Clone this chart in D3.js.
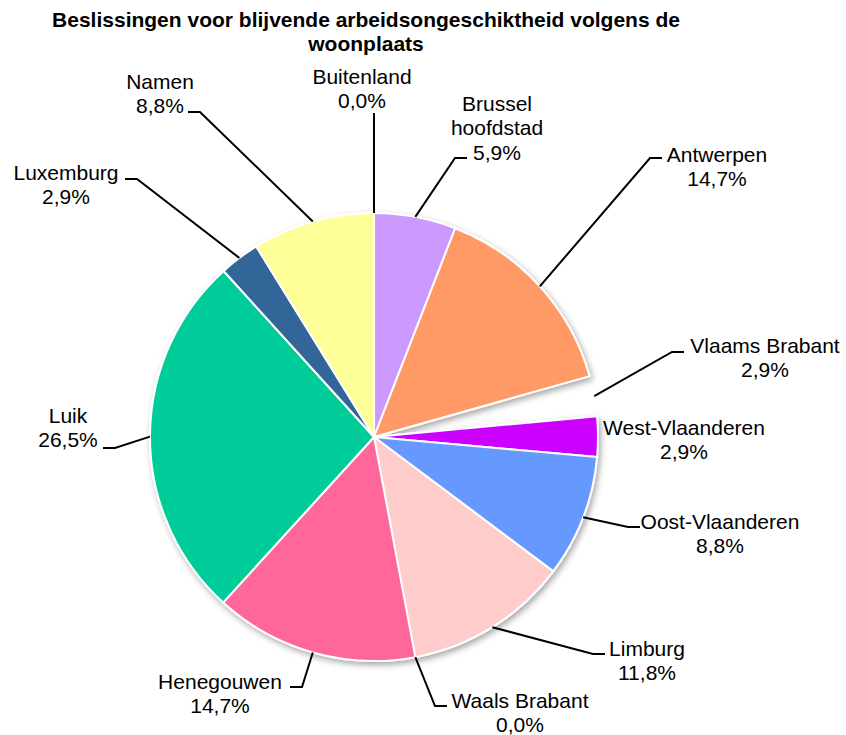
<!DOCTYPE html>
<html lang="nl">
<head>
    <meta charset="UTF-8">
    <title>Beslissingen voor blijvende arbeidsongeschiktheid volgens de woonplaats</title>
    <script src="https://d3js.org/d3.v7.min.js"></script>
    <style>
        body {
            margin: 0;
            padding: 0;
            background: #ffffff;
        }
        svg {
            display: block;
            font-family: 'Liberation Sans', Arial, sans-serif;
        }
        .lbl {
            font-size: 21px;
            fill: #000;
        }
        .title {
            font-size: 21px;
            font-weight: bold;
            fill: #000;
        }
    </style>
</head>
<body>
    <svg width="846" height="735"></svg>

    <script>
        // data, clockwise from 12 o'clock
        const provinces = ["Buitenland", "Brussel hoofdstad", "Antwerpen", "Vlaams Brabant",
                           "West-Vlaanderen", "Oost-Vlaanderen", "Limburg", "Waals Brabant",
                           "Henegouwen", "Luik", "Luxemburg", "Namen"];
        const shares = [0.0, 5.9, 14.7, 2.9, 2.9, 8.8, 11.8, 0.0, 14.7, 26.5, 2.9, 8.8];
        const colors = ["#ffffff", "#cc99ff", "#ff9966", "none", "#cc00ff", "#6699ff",
                        "#ffcccc", "#ffffff", "#ff6699", "#00cc99", "#336699", "#ffff99"];

        // label layout: text lines, text centre, elbow of the leader line
        const labelLines = [["Buitenland"], ["Brussel", "hoofdstad"], ["Antwerpen"], ["Vlaams Brabant"],
                            ["West-Vlaanderen"], ["Oost-Vlaanderen"], ["Limburg"], ["Waals Brabant"],
                            ["Henegouwen"], ["Luik"], ["Luxemburg"], ["Namen"]];
        const labelAt = [[362, 76], [497, 103], [717, 154], [765, 345], [684, 427], [720, 521],
                         [647, 648], [520, 700], [220, 681], [68, 415], [66, 172], [160, 81]];
        const elbows = [[374, 113, 0], [455, 158, 1], [650, 158, 1], [672, 352, 1], null, [628, 527, 1],
                        [593, 654, 1], [435, 706, 1], [302, 687, -1], [115, 448, -1], [137, 179, -1], [200, 112, -1]];

        const svg = d3.select("svg");
        const cx = 374, cy = 437, radius = 224;
        const fmt = v => d3.format(".1f")(v).replace(".", ",") + "%";

        const defs = svg.append("defs");
        const shadow = defs.append("filter").attr("id", "shadow")
            .attr("x", "-20%").attr("y", "-20%").attr("width", "140%").attr("height", "140%");
        shadow.append("feDropShadow")
            .attr("dx", 2).attr("dy", 3).attr("stdDeviation", 3)
            .attr("flood-color", "#000").attr("flood-opacity", 0.35);

        // title
        svg.append("text").attr("class", "title")
           .attr("x", 366).attr("y", 27).attr("text-anchor", "middle")
           .text("Beslissingen voor blijvende arbeidsongeschiktheid volgens de");
        svg.append("text").attr("class", "title")
           .attr("x", 366).attr("y", 51).attr("text-anchor", "middle")
           .text("woonplaats");

        const pie = d3.pie().sort(null).value(d => d)(shares);
        const arc = d3.arc().innerRadius(0).outerRadius(radius);
        const rim = d3.arc().innerRadius(radius).outerRadius(radius);

        const g = svg.append("g").attr("transform", `translate(${cx},${cy})`);

        g.append("g").attr("filter", "url(#shadow)")
         .selectAll("path")
         .data(pie.filter(d => d.endAngle > d.startAngle))
         .enter()
         .append("path")
         .attr("d", arc)
         .attr("fill", d => colors[d.index])
         .attr("stroke", d => colors[d.index] === "none" ? "none" : "#ffffff")
         .attr("stroke-width", 2)
         .attr("stroke-linejoin", "round");

        // leader lines
        const leaders = svg.append("g").attr("fill", "none").attr("stroke", "#000").attr("stroke-width", 2);
        pie.forEach((d, i) => {
            const e = elbows[i];
            if (!e) return;
            const mid = (d.startAngle + d.endAngle) / 2;
            const p = rim.centroid({ startAngle: mid, endAngle: mid });
            const start = [cx + p[0], cy + p[1]];
            const pts = [start, [e[0], e[1]]];
            if (e[2] !== 0) pts.push([e[0] + e[2] * 12, e[1]]);
            leaders.append("path").attr("d", d3.line()(pts));
        });

        // labels
        const lineH = 24.5;
        pie.forEach((d, i) => {
            const lines = labelLines[i].concat([fmt(shares[i])]);
            const t = svg.append("text").attr("class", "lbl")
                .attr("text-anchor", "middle")
                .attr("x", labelAt[i][0])
                .attr("y", labelAt[i][1] + 7.5);
            lines.forEach((s, k) => {
                t.append("tspan").attr("x", labelAt[i][0]).attr("dy", k === 0 ? 0 : lineH).text(s);
            });
        });
    </script>
</body>
</html>
